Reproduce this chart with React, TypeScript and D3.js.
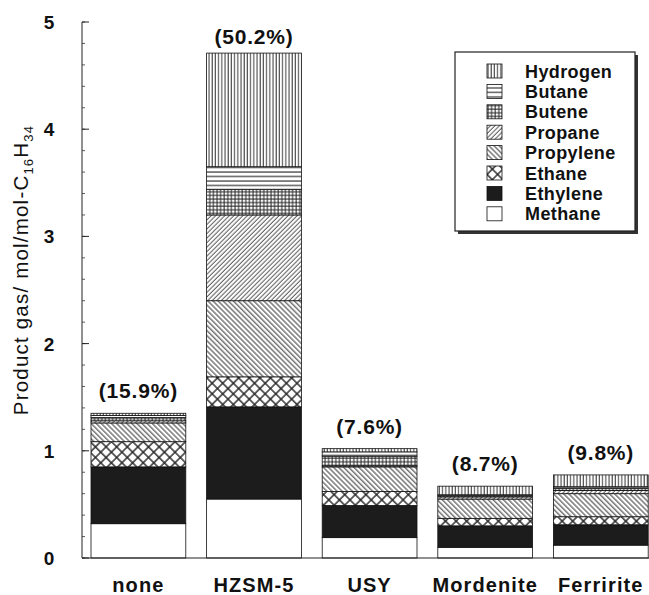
import React from 'react';
import * as d3 from 'd3';

// catalysts along the x axis and conversion labels above each bar
const categories = ['none', 'HZSM-5', 'USY', 'Mordenite', 'Ferririte'];
const conversions = ['(15.9%)', '(50.2%)', '(7.6%)', '(8.7%)', '(9.8%)'];

// product gas, mol/mol-C16H34, stacked bottom to top
const methane = [0.32, 0.55, 0.19, 0.10, 0.12];
const ethylene = [0.53, 0.86, 0.30, 0.20, 0.19];
const ethane = [0.235, 0.28, 0.13, 0.07, 0.075];
const propylene = [0.175, 0.71, 0.23, 0.18, 0.215];
const propane = [0.02, 0.80, 0.01, 0.02, 0.03];
const butene = [0.03, 0.24, 0.09, 0.01, 0.02];
const butane = [0.02, 0.21, 0.04, 0.01, 0.015];
const hydrogen = [0.02, 1.06, 0.03, 0.08, 0.11];

const seriesNames = ['Methane', 'Ethylene', 'Ethane', 'Propylene', 'Propane', 'Butene', 'Butane', 'Hydrogen'];
const seriesValues = [methane, ethylene, ethane, propylene, propane, butene, butane, hydrogen];
const yTicks = [0, 1, 2, 3, 4, 5];

const W = 649;
const H = 595;
const font = '"Liberation Sans", Arial, Helvetica, sans-serif';

const fills: Record<string, string> = {
  Methane: '#ffffff',
  Ethylene: '#1c1c1c',
  Ethane: 'url(#p-ethane)',
  Propylene: 'url(#p-propylene)',
  Propane: 'url(#p-propane)',
  Butene: 'url(#p-butene)',
  Butane: 'url(#p-butane)',
  Hydrogen: 'url(#p-hydrogen)',
};

export default function App() {
  const rows = categories.map((c, i) => {
    const r: Record<string, any> = { cat: c };
    seriesNames.forEach((s, k) => (r[s] = seriesValues[k][i]));
    return r;
  });
  const stacked = d3.stack<any>().keys(seriesNames)(rows);
  const totals = rows.map((r) => d3.sum(seriesNames, (s) => r[s]));

  const x = d3.scaleBand().domain(categories).range([80.6, 658.6]).paddingInner(0.18).paddingOuter(0.09);
  const y = d3.scaleLinear().domain([0, 5]).range([558, 22]);
  const minor = d3.range(0, 5.001, 0.2);

  const legendX = 455;
  const legendY = 52;
  const legendRows = [...seriesNames].reverse();

  return (
    <svg width={W} height={H} style={{ position: 'absolute', left: 0, top: 0, background: '#fff' }} fontFamily={font}>
      <defs>
        <pattern id="p-hydrogen" width="3.2" height="4" patternUnits="userSpaceOnUse">
          <rect width="3.2" height="4" fill="#fff" />
          <line x1="1" y1="0" x2="1" y2="4" stroke="#333" strokeWidth="1" />
        </pattern>
        <pattern id="p-butane" width="4" height="4.5" patternUnits="userSpaceOnUse">
          <rect width="4" height="4.5" fill="#fff" />
          <line x1="0" y1="1" x2="4" y2="1" stroke="#222" strokeWidth="1.1" />
        </pattern>
        <pattern id="p-butene" width="3.6" height="3.6" patternUnits="userSpaceOnUse">
          <rect width="3.6" height="3.6" fill="#fff" />
          <line x1="1" y1="0" x2="1" y2="3.6" stroke="#222" strokeWidth="1" />
          <line x1="0" y1="1" x2="3.6" y2="1" stroke="#222" strokeWidth="1" />
        </pattern>
        <pattern id="p-propane" width="3.2" height="3.2" patternUnits="userSpaceOnUse" patternTransform="rotate(-45)">
          <rect width="3.2" height="3.2" fill="#fff" />
          <line x1="0" y1="1" x2="3.2" y2="1" stroke="#444" strokeWidth="0.9" />
        </pattern>
        <pattern id="p-propylene" width="3.6" height="3.6" patternUnits="userSpaceOnUse" patternTransform="rotate(45)">
          <rect width="3.6" height="3.6" fill="#fff" />
          <line x1="0" y1="1" x2="3.6" y2="1" stroke="#333" strokeWidth="1" />
        </pattern>
        <pattern id="p-ethane" width="7.5" height="7.5" patternUnits="userSpaceOnUse" patternTransform="rotate(45)">
          <rect width="7.5" height="7.5" fill="#fff" />
          <line x1="0" y1="1" x2="7.5" y2="1" stroke="#222" strokeWidth="1.4" />
          <line x1="1" y1="0" x2="1" y2="7.5" stroke="#222" strokeWidth="1.4" />
        </pattern>
      </defs>

      {/* stacked bars */}
      {stacked.map((layer) => (
        <g key={layer.key}>
          {layer.map((d, i) => (
            <rect
              key={i}
              x={x(categories[i])}
              y={y(d[1])}
              width={x.bandwidth()}
              height={Math.max(0, y(d[0]) - y(d[1]))}
              fill={fills[layer.key]}
              stroke="#111"
              strokeWidth={0.8}
            />
          ))}
        </g>
      ))}

      {/* conversion labels */}
      {conversions.map((t, i) => (
        <text
          key={t}
          x={(x(categories[i]) ?? 0) + x.bandwidth() / 2}
          y={Math.max(y(totals[i]) - 15, 44)}
          textAnchor="middle"
          fontSize={21}
          letterSpacing={0.8}
          fontWeight="bold"
          fill="#111"
        >
          {t}
        </text>
      ))}

      {/* axes */}
      <line x1={82} y1={y(5)} x2={82} y2={y(0)} stroke="#222" strokeWidth={1} />
      <line x1={82} y1={y(0)} x2={W} y2={y(0)} stroke="#222" strokeWidth={1} />
      {minor.map((v) => (
        <line key={v} x1={82} x2={85} y1={y(v)} y2={y(v)} stroke="#333" strokeWidth={0.8} />
      ))}
      {yTicks.map((v) => (
        <g key={v}>
          <line x1={82} x2={89} y1={y(v)} y2={y(v)} stroke="#222" strokeWidth={1} />
          <text x={49} y={y(v) + 7} textAnchor="middle" fontSize={19} fontWeight="bold" fill="#111">
            {v}
          </text>
        </g>
      ))}
      {categories.map((c) => (
        <text
          key={c}
          x={(x(c) ?? 0) + x.bandwidth() / 2}
          y={592}
          textAnchor="middle"
          fontSize={20}
          letterSpacing={1.1}
          fontWeight="bold"
          fill="#111"
        >
          {c}
        </text>
      ))}
      <text
        transform="translate(28,270) rotate(-90)"
        textAnchor="middle"
        fontSize={20.5}
        letterSpacing={1.2}
        fill="#111"
      >
        Product gas/ mol/mol-C
        <tspan fontSize={13} dy={5}>16</tspan>
        <tspan dy={-5}>H</tspan>
        <tspan fontSize={13} dy={5}>34</tspan>
      </text>

      {/* legend */}
      <rect x={legendX + 3} y={legendY + 3} width={180} height={179} fill="#333" />
      <rect x={legendX} y={legendY} width={180} height={179} fill="#fff" stroke="#222" strokeWidth={1.2} />
      {legendRows.map((s, i) => (
        <g key={s} transform={`translate(${legendX + 32},${legendY + 19 + i * 20.4})`}>
          <rect x={0} y={-7} width={15} height={14} fill={fills[s]} stroke="#111" strokeWidth={0.8} />
          <text x={38} y={6.5} fontSize={18} letterSpacing={0.4} fontWeight="bold" fill="#111">
            {s}
          </text>
        </g>
      ))}
    </svg>
  );
}
